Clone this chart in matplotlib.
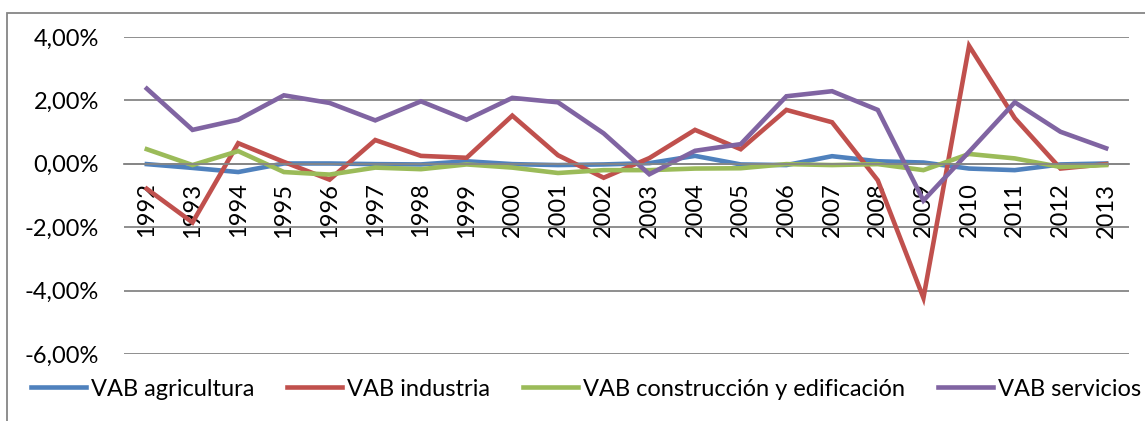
import numpy as np
import matplotlib.pyplot as plt
from matplotlib.patches import Rectangle
from matplotlib.ticker import FuncFormatter

plt.rcParams['font.family'] = ['Lato', 'DejaVu Sans']

years = [str(y) for y in range(1992, 2014)]

# annual change, in %
agricultura = [-0.01, -0.13, -0.26, 0.01, 0.01, -0.01, -0.02, 0.08, -0.01, -0.04, -0.02,
               0.02, 0.25, -0.02, -0.04, 0.24, 0.08, 0.04, -0.15, -0.20, -0.02, 0.01]
industria = [-0.79, -1.85, 0.65, 0.06, -0.50, 0.75, 0.25, 0.19, 1.52, 0.27, -0.44,
             0.18, 1.07, 0.46, 1.70, 1.31, -0.52, -4.23, 3.72, 1.44, -0.15, -0.01]
construccion = [0.46, -0.04, 0.40, -0.26, -0.34, -0.12, -0.17, -0.02, -0.12, -0.29, -0.20,
                -0.20, -0.15, -0.14, -0.01, -0.04, -0.01, -0.20, 0.31, 0.17, -0.10, -0.04]
servicios = [2.37, 1.07, 1.39, 2.16, 1.92, 1.37, 1.97, 1.39, 2.08, 1.94, 0.96,
             -0.33, 0.41, 0.62, 2.13, 2.29, 1.70, -1.16, 0.38, 1.94, 1.01, 0.49]

series = [
    ('VAB agricultura', agricultura, '#4F81BD'),
    ('VAB industria', industria, '#C0504D'),
    ('VAB construcción y edificación', construccion, '#9BBB59'),
    ('VAB servicios', servicios, '#8064A2'),
]

grey = '#868686'
fs = 17

fig = plt.figure(figsize=(11.45, 4.21), dpi=100)
ax = fig.add_axes([124 / 1145, 1 - 354 / 421, 1005 / 1145, 317 / 421])

x = np.arange(len(years))
for label, vals, color in series:
    ax.plot(x, np.array(vals) / 100, color=color, lw=3.3, label=label,
            solid_joinstyle='miter')

ax.set_xlim(-0.5, len(years) - 0.5)
ax.set_ylim(-0.06, 0.04)
ax.set_yticks(np.arange(-0.06, 0.041, 0.02))
ax.yaxis.set_major_formatter(FuncFormatter(lambda v, p: f'{v * 100:.2f}%'.replace('.', ',')))
ax.yaxis.grid(True, color=grey, lw=1.3)
ax.set_axisbelow(True)

for side in ['top', 'right', 'left']:
    ax.spines[side].set_visible(False)
ax.spines['bottom'].set_position(('data', 0))
ax.spines['bottom'].set_color(grey)
ax.spines['bottom'].set_linewidth(1.3)

ax.set_xticks(x)
ax.set_xticklabels(years, rotation=90)
ax.tick_params(axis='x', length=0, pad=13.5, labelsize=fs)
ax.tick_params(axis='y', length=0, pad=18, labelsize=fs)

fig.legend(loc='center', bbox_to_anchor=(0.512, 1 - 389 / 421), ncol=4,
           frameon=False, fontsize=fs, handlelength=2.33, handletextpad=0.21,
           columnspacing=1.4, borderaxespad=0)

# chart area border
fig.patches.append(Rectangle((7 / 1145, -0.1), 1.2, 1.1 - 13 / 421, transform=fig.transFigure,
                             fill=False, edgecolor=grey, lw=1.3))

fig.savefig('out.png', dpi=100)
